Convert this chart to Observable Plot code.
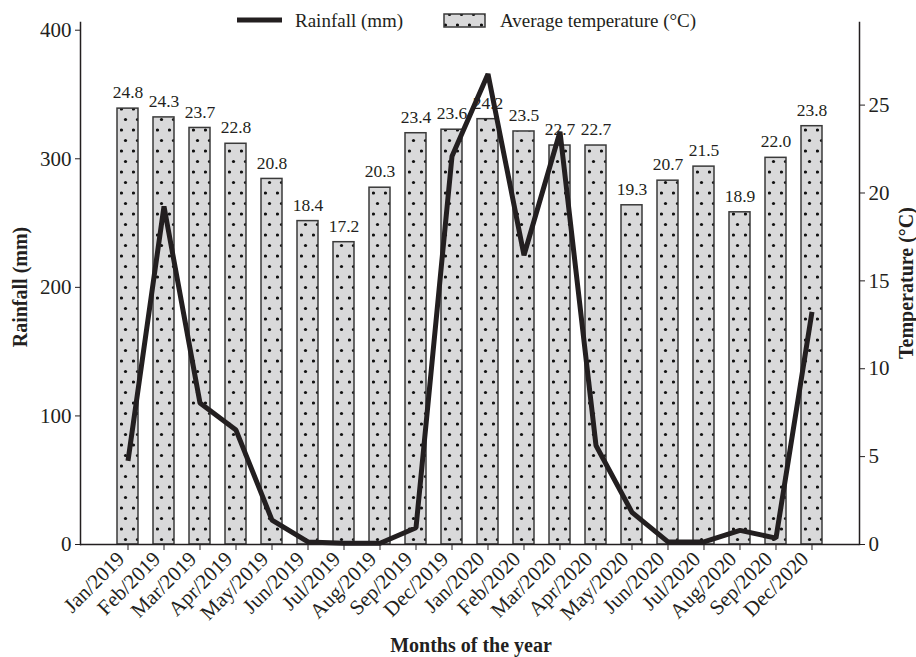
<!DOCTYPE html>
<html>
<head>
<meta charset="utf-8">
<script src="https://cdn.jsdelivr.net/npm/d3@7"></script>
<script src="https://cdn.jsdelivr.net/npm/@observablehq/plot@0.6"></script>
<style>
  html, body { margin: 0; padding: 0; background: #fff; }
  #chart { position: relative; width: 916px; height: 657px; }
</style>
</head>
<body>
<div id="chart"></div>
<script>
const months = ["Jan/2019","Feb/2019","Mar/2019","Apr/2019","May/2019","Jun/2019","Jul/2019","Aug/2019","Sep/2019","Dec/2019",
                "Jan/2020","Feb/2020","Mar/2020","Apr/2020","May/2020","Jun/2020","Jul/2020","Aug/2020","Sep/2020","Dec/2020"];
const temperature = [24.8, 24.3, 23.7, 22.8, 20.8, 18.4, 17.2, 20.3, 23.4, 23.6,
                     24.2, 23.5, 22.7, 22.7, 19.3, 20.7, 21.5, 18.9, 22.0, 23.8];
const rainfall = [65, 263, 110, 89, 19, 2, 1, 1, 13, 302,
                  366, 225, 321, 77, 25, 2, 2, 11, 5, 181];
const rainTicks = [0, 100, 200, 300, 400];
const tempTicks = [0, 5, 10, 15, 20, 25];

// one degree on the right axis equals this many mm on the left axis
const R = 13.67;

const data = months.map((m, i) => ({
  month: m, temp: temperature[i], tempY: temperature[i] * R, rain: rainfall[i]
}));

const ink = "#231f20";
const font = "'Liberation Serif', 'Times New Roman', serif";

const plot = Plot.plot({
  width: 916,
  height: 657,
  marginLeft: 80,
  marginRight: 57,
  marginTop: 22,
  marginBottom: 113,
  style: { fontFamily: font, fontSize: "19px", color: ink, background: "#fff", overflow: "visible" },
  x: { domain: months, range: [102, 837], padding: 0.4167, round: false, label: null },
  y: { domain: [0, 406], label: null },
  marks: [
    Plot.barY(data, { x: "month", y: "tempY", fill: "url(#dots)", stroke: "#3a3a3a", strokeWidth: 1.5 }),
    Plot.text(data, { x: "month", y: "tempY", text: d => d.temp.toFixed(1), dy: -16, fontSize: 17.5, fill: ink }),
    Plot.line(data, { x: "month", y: "rain", stroke: ink, strokeWidth: 5, strokeLinejoin: "miter", strokeLinecap: "butt" }),
    Plot.ruleY([0], { stroke: ink, strokeWidth: 1.5 }),
    Plot.frame({ anchor: "left", stroke: ink, strokeWidth: 1.5 }),
    Plot.frame({ anchor: "right", stroke: ink, strokeWidth: 1.5 }),
    Plot.axisY({ anchor: "left", ticks: rainTicks, tickSize: 5, tickPadding: 4, fontSize: 21, label: null, stroke: ink }),
    Plot.axisY({ anchor: "right", ticks: tempTicks.map(t => t * R), tickFormat: d => String(Math.round(d / R)), tickSize: 5, tickPadding: 4, fontSize: 21, label: null, stroke: ink }),
    Plot.axisX({ tickSize: 6, tickFormat: () => "", label: null, stroke: ink }),
    Plot.axisX({ tickRotate: -45, tickSize: 0, tickPadding: 11, dx: -7, fontSize: 21, label: null })
  ]
});

document.getElementById("chart").appendChild(plot);

const svg = d3.select(plot);
const defs = svg.insert("defs", ":first-child");
const pat = defs.append("pattern")
  .attr("id", "dots")
  .attr("patternUnits", "userSpaceOnUse")
  .attr("width", 12).attr("height", 21);
pat.append("rect").attr("width", 12).attr("height", 21).attr("fill", "#d9d9da");
pat.append("circle").attr("cx", 1.5).attr("cy", 4).attr("r", 1.6).attr("fill", "#111");
pat.append("circle").attr("cx", 5.5).attr("cy", 14.5).attr("r", 1.6).attr("fill", "#111");

// legend
const lg = svg.append("g").attr("font-family", font).attr("font-size", 19).attr("fill", ink).attr("text-anchor", "start");
lg.append("line").attr("x1", 237).attr("x2", 282).attr("y1", 20).attr("y2", 20)
  .attr("stroke", ink).attr("stroke-width", 5);
lg.append("text").attr("x", 295).attr("y", 27).text("Rainfall (mm)");
lg.append("rect").attr("x", 444).attr("y", 14).attr("width", 41).attr("height", 13)
  .attr("fill", "url(#dots)").attr("stroke", "#3a3a3a").attr("stroke-width", 1.5);
lg.append("text").attr("x", 500).attr("y", 27).text("Average temperature (°C)");

// axis titles
const tg = svg.append("g").attr("font-family", font).attr("font-size", 20).attr("font-weight", "bold").attr("fill", ink).attr("text-anchor", "middle");
tg.append("text").attr("transform", "translate(27,287) rotate(-90)").text("Rainfall (mm)");
tg.append("text").attr("transform", "translate(913,283) rotate(-90)").text("Temperature (°C)");
tg.append("text").attr("x", 471).attr("y", 652).text("Months of the year");
</script>
</body>
</html>
